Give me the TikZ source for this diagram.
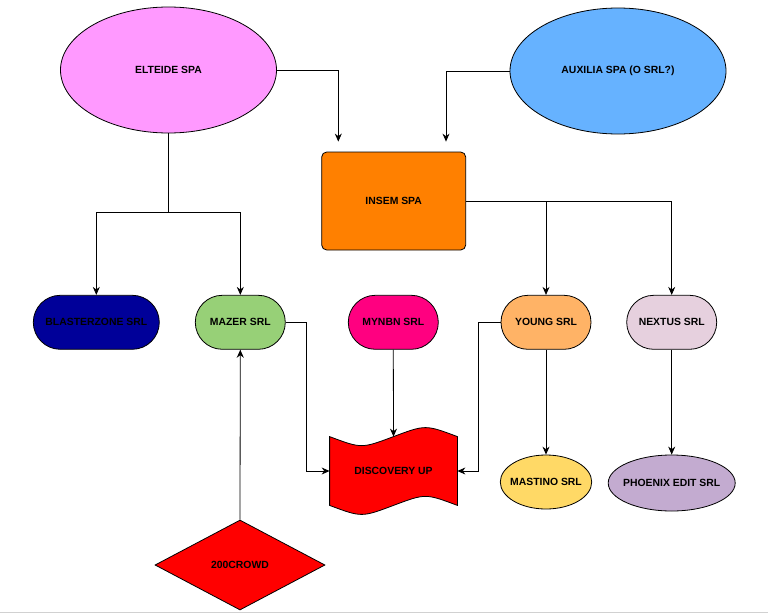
\documentclass[tikz,border=0pt]{standalone}
\usepackage{fontspec}
\setmainfont{Liberation Sans}
\usetikzlibrary{shapes.geometric,shapes.misc,arrows.meta,calc,backgrounds}

\definecolor{elteidepink}{HTML}{FF99FF}
\definecolor{auxiliablue}{HTML}{66B2FF}
\definecolor{insemorange}{HTML}{FF8000}
\definecolor{blasterblue}{HTML}{000099}
\definecolor{mazergreen}{HTML}{97D077}
\definecolor{mynbnpink}{HTML}{FF0080}
\definecolor{youngorange}{HTML}{FFB366}
\definecolor{nextuslilac}{HTML}{E6D0DE}
\definecolor{mastinoyellow}{HTML}{FFD966}
\definecolor{phoenixpurple}{HTML}{C3ABD0}

\tikzset{
    company/.style={
        draw,line width=.8pt,
        font=\bfseries\fontsize{10.4}{12}\selectfont,
        inner sep=0pt
    },
    spa/.style={company,ellipse,minimum width=216pt,minimum height=126pt},
    srl/.style={company,rounded rectangle,minimum width=90pt,minimum height=54pt},
    link/.style={line width=.8pt,-{Stealth[length=8pt,width=7pt]}}
}

\begin{document}
\begin{tikzpicture}[x=1pt,y=-1pt]
        \useasboundingbox (0,0) rectangle (768,613);
        \draw[black!18] (0,612) -- (768,612);
        % holding companies
        \node[spa,fill=elteidepink] (elteide) at (168.5,70) {ELTEIDE SPA};
        \node[spa,fill=auxiliablue] (auxilia) at (618,71) {AUXILIA SPA (O SRL?)};
        \node[company,fill=insemorange,rounded corners=5pt,minimum width=144pt,minimum height=98pt] (insem) at (393.7,201) {INSEM SPA};
        % srl row
        \foreach \x/\name/\col/\boxw/\txt in {96.3/blaster/blasterblue/126/BLASTERZONE SRL,240.3/mazer/mazergreen/90/MAZER SRL,393.3/mynbn/mynbnpink/90/MYNBN SRL,546/young/youngorange/90/YOUNG SRL,671.7/nextus/nextuslilac/90/NEXTUS SRL}
            \node[srl,fill=\col,minimum width=\boxw pt] (\name) at (\x,322.3) {\txt};
        \node[company,ellipse,inner xsep=-3.5pt,fill=mastinoyellow,minimum width=90pt,minimum height=54pt] (mastino) at (546,482) {MASTINO SRL};
        \node[company,ellipse,inner xsep=-4pt,fill=phoenixpurple,minimum width=127pt,minimum height=56pt] (phoenix) at (671.7,483) {PHOENIX EDIT SRL};
        \node[company,diamond,fill=red,minimum width=170pt,minimum height=90pt] (crowd) at (240,565) {200CROWD};
        \node[company,draw=none,minimum width=127pt,minimum height=68pt] (discovery) at (393.5,471) {DISCOVERY UP};
        \begin{scope}[on background layer]
            \draw[line width=.8pt,fill=red] (discovery.north west)
                .. controls ($(discovery.north west)!.5!(discovery.north)+(0,12)$) .. (discovery.north)
                .. controls ($(discovery.north)!.5!(discovery.north east)+(0,-12)$) .. (discovery.north east)
                -- (discovery.south east)
                .. controls ($(discovery.south east)!.5!(discovery.south)+(0,-12)$) .. (discovery.south)
                .. controls ($(discovery.south)!.5!(discovery.south west)+(0,12)$) .. (discovery.south west)
                -- cycle;
        \end{scope}
        % connectors
        \coordinate (split) at (168.5,212);
        \draw[line width=.8pt] (elteide.south) -- (split);
        \draw[link] (split) -| (blaster);
        \draw[link] (split) -| (mazer);
        \draw[link,shorten >=10pt] (elteide.east) -| ([xshift=-55.4pt]insem.north);
        \draw[link,shorten >=10pt] (auxilia.west) -| ([xshift=52.3pt]insem.north);
        \draw[link] (insem.east) -| (young);
        \draw[link] (insem.east) -| (nextus);
        \draw[link] (mazer.east) -- ++(21,0) |- (discovery.west);
        \draw[link] (mynbn.south) -- (discovery.north);
        \draw[link] (young.west) -- ++(-22,0) |- (discovery.east);
        \draw[link] (young.south) -- (mastino.north);
        \draw[link] (nextus.south) -- (phoenix.north);
        \draw[link] (crowd.north) -- (mazer.south);
    \end{tikzpicture}
\end{document}
